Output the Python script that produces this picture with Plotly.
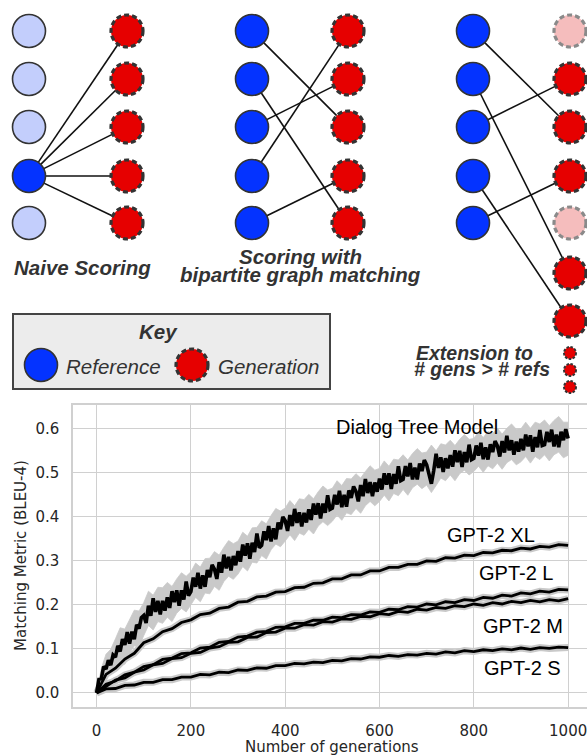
import math
import plotly.graph_objects as go

W, H = 587, 756

# ---------------- chart data ----------------
gens_dialog = list(range(0, 1001, 5))
dialog_tree = [
    0.000, 0.031, 0.032, 0.060, 0.054, 0.074, 0.063, 0.086, 0.081, 0.107,
    0.094, 0.122, 0.109, 0.138, 0.112, 0.139, 0.122, 0.155, 0.146, 0.171,
    0.176, 0.159, 0.198, 0.175, 0.215, 0.184, 0.209, 0.178, 0.209, 0.187,
    0.217, 0.193, 0.231, 0.206, 0.233, 0.198, 0.233, 0.212, 0.253, 0.221,
    0.230, 0.262, 0.241, 0.273, 0.237, 0.267, 0.241, 0.279, 0.263, 0.291,
    0.281, 0.259, 0.297, 0.273, 0.314, 0.283, 0.309, 0.278, 0.311, 0.290,
    0.322, 0.298, 0.337, 0.312, 0.340, 0.305, 0.341, 0.320, 0.362, 0.330,
    0.335, 0.367, 0.347, 0.379, 0.344, 0.374, 0.349, 0.387, 0.372, 0.400,
    0.391, 0.368, 0.404, 0.379, 0.418, 0.386, 0.410, 0.378, 0.409, 0.387,
    0.417, 0.393, 0.430, 0.405, 0.431, 0.396, 0.430, 0.409, 0.449, 0.417,
    0.420, 0.450, 0.428, 0.459, 0.422, 0.450, 0.423, 0.460, 0.443, 0.469,
    0.458, 0.435, 0.472, 0.447, 0.486, 0.454, 0.479, 0.447, 0.478, 0.457,
    0.487, 0.462, 0.499, 0.473, 0.499, 0.463, 0.497, 0.475, 0.515, 0.482,
    0.485, 0.515, 0.492, 0.522, 0.485, 0.512, 0.485, 0.521, 0.504, 0.529,
    0.518, 0.495, 0.475, 0.505, 0.543, 0.511, 0.535, 0.502, 0.533, 0.510,
    0.540, 0.514, 0.551, 0.524, 0.550, 0.513, 0.547, 0.524, 0.564, 0.530,
    0.533, 0.562, 0.539, 0.568, 0.531, 0.558, 0.530, 0.565, 0.547, 0.572,
    0.561, 0.537, 0.572, 0.546, 0.584, 0.551, 0.574, 0.541, 0.571, 0.548,
    0.577, 0.551, 0.587, 0.560, 0.585, 0.548, 0.581, 0.558, 0.597, 0.562,
    0.564, 0.593, 0.570, 0.598, 0.560, 0.587, 0.558, 0.593, 0.574, 0.599,
    0.578]

# grey spread (upper / lower edges) of the dialog curve, every 10 generations
gens_dialog_band = list(range(0, 1001, 10))
dialog_upper = [
    0.000, 0.055, 0.088, 0.099, 0.123, 0.148, 0.145, 0.168, 0.188, 0.186,
    0.205, 0.231, 0.222, 0.240, 0.239, 0.251, 0.242, 0.259, 0.273, 0.265,
    0.275, 0.295, 0.286, 0.305, 0.306, 0.321, 0.313, 0.331, 0.346, 0.339,
    0.345, 0.365, 0.356, 0.375, 0.376, 0.391, 0.384, 0.403, 0.419, 0.413,
    0.420, 0.437, 0.425, 0.441, 0.439, 0.451, 0.441, 0.457, 0.470, 0.461,
    0.465, 0.482, 0.471, 0.487, 0.486, 0.498, 0.488, 0.503, 0.516, 0.506,
    0.510, 0.527, 0.515, 0.531, 0.529, 0.541, 0.529, 0.544, 0.555, 0.545,
    0.547, 0.563, 0.550, 0.566, 0.563, 0.574, 0.562, 0.576, 0.587, 0.576,
    0.578, 0.593, 0.580, 0.594, 0.590, 0.601, 0.588, 0.601, 0.611, 0.599,
    0.600, 0.615, 0.601, 0.615, 0.611, 0.620, 0.607, 0.619, 0.628, 0.615,
    0.615]
dialog_lower = [
    0.000, 0.025, 0.034, 0.057, 0.066, 0.069, 0.065, 0.090, 0.107, 0.105,
    0.130, 0.153, 0.143, 0.162, 0.158, 0.172, 0.162, 0.181, 0.192, 0.184,
    0.200, 0.217, 0.207, 0.227, 0.225, 0.242, 0.233, 0.253, 0.265, 0.258,
    0.270, 0.287, 0.277, 0.297, 0.295, 0.312, 0.304, 0.325, 0.338, 0.332,
    0.345, 0.359, 0.346, 0.363, 0.358, 0.372, 0.361, 0.379, 0.389, 0.380,
    0.390, 0.404, 0.392, 0.409, 0.405, 0.419, 0.408, 0.425, 0.435, 0.425,
    0.435, 0.449, 0.436, 0.453, 0.448, 0.462, 0.449, 0.466, 0.474, 0.464,
    0.472, 0.455, 0.471, 0.488, 0.482, 0.495, 0.482, 0.498, 0.506, 0.495,
    0.503, 0.515, 0.501, 0.516, 0.509, 0.522, 0.508, 0.523, 0.530, 0.518,
    0.525, 0.537, 0.522, 0.537, 0.530, 0.541, 0.527, 0.541, 0.547, 0.534,
    0.540]

gens_gpt = list(range(0, 1001, 20))
gpt2_xl = [0.000, 0.042, 0.056, 0.077, 0.090, 0.114, 0.123, 0.139, 0.146, 0.160,
           0.166, 0.178, 0.181, 0.192, 0.195, 0.206, 0.208, 0.218, 0.220, 0.229,
           0.230, 0.239, 0.240, 0.249, 0.250, 0.259, 0.259, 0.268, 0.268, 0.277,
           0.277, 0.285, 0.285, 0.292, 0.292, 0.300, 0.299, 0.307, 0.306, 0.313,
           0.312, 0.319, 0.318, 0.324, 0.323, 0.329, 0.327, 0.333, 0.331, 0.337,
           0.335]
gpt2_l = [0.000, 0.020, 0.027, 0.041, 0.047, 0.060, 0.064, 0.076, 0.079, 0.089,
          0.091, 0.102, 0.104, 0.115, 0.117, 0.127, 0.129, 0.138, 0.140, 0.149,
          0.150, 0.158, 0.158, 0.165, 0.165, 0.172, 0.171, 0.178, 0.177, 0.184,
          0.183, 0.190, 0.189, 0.196, 0.195, 0.202, 0.200, 0.207, 0.205, 0.212,
          0.210, 0.217, 0.215, 0.222, 0.220, 0.227, 0.225, 0.231, 0.229, 0.235,
          0.234]
gpt2_m = [0.000, 0.014, 0.029, 0.034, 0.047, 0.052, 0.064, 0.067, 0.078, 0.080,
          0.090, 0.092, 0.102, 0.105, 0.115, 0.116, 0.126, 0.127, 0.137, 0.138,
          0.147, 0.147, 0.155, 0.154, 0.162, 0.161, 0.168, 0.167, 0.174, 0.173,
          0.180, 0.178, 0.185, 0.183, 0.190, 0.188, 0.194, 0.192, 0.198, 0.196,
          0.202, 0.199, 0.205, 0.202, 0.208, 0.205, 0.210, 0.207, 0.212, 0.209,
          0.214]
gpt2_s = [0.000, 0.009, 0.010, 0.017, 0.018, 0.024, 0.024, 0.030, 0.030, 0.036,
          0.036, 0.042, 0.041, 0.047, 0.046, 0.052, 0.051, 0.057, 0.056, 0.062,
          0.062, 0.067, 0.066, 0.070, 0.069, 0.074, 0.073, 0.078, 0.077, 0.082,
          0.081, 0.085, 0.083, 0.087, 0.086, 0.090, 0.088, 0.093, 0.091, 0.096,
          0.094, 0.098, 0.096, 0.100, 0.098, 0.102, 0.099, 0.103, 0.101, 0.104,
          0.103]

series_labels = ["Dialog Tree Model", "GPT-2 XL", "GPT-2 L", "GPT-2 M", "GPT-2 S"]
label_x = [679, 836, 889, 904, 904]
label_y = [0.605, 0.359, 0.273, 0.152, 0.057]

x_ticks = [0, 200, 400, 600, 800, 1000]
y_ticks = [0.0, 0.1, 0.2, 0.3, 0.4, 0.5, 0.6]

# ---------------- diagram layout (pixel positions) ----------------
rows5 = [31, 79, 127, 176, 223]
rows7 = [31, 79, 127, 176, 223, 273, 321]
panels = [
    dict(ref_x=29, gen_x=127, gen_rows=rows5, ref_light=[1, 1, 1, 0, 1],
         gen_faded=[0, 0, 0, 0, 0], edges=[(3, 0), (3, 1), (3, 2), (3, 3), (3, 4)]),
    dict(ref_x=252, gen_x=348, gen_rows=rows5, ref_light=[0, 0, 0, 0, 0],
         gen_faded=[0, 0, 0, 0, 0], edges=[(0, 2), (1, 4), (2, 1), (3, 0), (4, 3)]),
    dict(ref_x=473, gen_x=570, gen_rows=rows7, ref_light=[0, 0, 0, 0, 0],
         gen_faded=[1, 0, 0, 0, 1, 0, 0], edges=[(0, 2), (1, 5), (2, 1), (3, 6), (4, 3)]),
]
small_dot_rows = [353, 370, 387]

BLUE = "#0433ff"
LIGHT_BLUE = "#c3cefc"
RED = "#e60000"
PINK = "#f5bdbd"
R_REF = 16.5
R_GEN = 16.0


def px(x):
    return x / W


def py(y):
    return 1 - y / H


shapes = []


def circle(cx, cy, r, fill, lcolor, lw, dash="solid"):
    shapes.append(dict(type="circle", xref="paper", yref="paper",
                       x0=px(cx - r), x1=px(cx + r), y0=py(cy + r), y1=py(cy - r),
                       fillcolor=fill, line=dict(color=lcolor, width=lw, dash=dash),
                       layer="above"))


def gen_circle(cx, cy, r=R_GEN, faded=False):
    circle(cx, cy, r, PINK if faded else RED, "#8a8a8a" if faded else "#333333", 3.2,
           "5px,3px")


# edges first
for p in panels:
    for (i, j) in p["edges"]:
        x1, y1 = p["ref_x"], rows5[i]
        x2, y2 = p["gen_x"], p["gen_rows"][j]
        d = math.hypot(x2 - x1, y2 - y1)
        ux, uy = (x2 - x1) / d, (y2 - y1) / d
        sx, sy = x1 + ux * R_REF, y1 + uy * R_REF
        ex, ey = x2 - ux * R_GEN, y2 - uy * R_GEN
        shapes.append(dict(type="line", xref="paper", yref="paper",
                           x0=px(sx), y0=py(sy), x1=px(ex), y1=py(ey),
                           line=dict(color="#111111", width=1.6), layer="above"))

for p in panels:
    for k, y in enumerate(rows5):
        circle(p["ref_x"], y, R_REF, LIGHT_BLUE if p["ref_light"][k] else BLUE, "#333333", 1.6)
    for k, y in enumerate(p["gen_rows"]):
        gen_circle(p["gen_x"], y, faded=bool(p["gen_faded"][k]))

for y in small_dot_rows:
    circle(570, y, 6, RED, "#333333", 2, "2.5px,1.5px")

# key box
shapes.append(dict(type="rect", xref="paper", yref="paper",
                   x0=px(13), x1=px(330), y0=py(389), y1=py(314),
                   fillcolor="#ececec", line=dict(color="#444444", width=2), layer="below"))
circle(41, 365, R_REF, BLUE, "#333333", 1.6)
gen_circle(192, 365)

annotations = []


def text(x, y, s, size, color="#333333", xanchor="center", font="Liberation Sans"):
    annotations.append(dict(x=px(x), y=py(y), xref="paper", yref="paper", text=s,
                            showarrow=False, xanchor=xanchor, yanchor="middle",
                            font=dict(family=font, size=size, color=color)))


text(82, 267, "<b><i>Naive Scoring</i></b>", 20.5)
text(300, 256, "<b><i>Scoring with</i></b>", 20.5)
text(300, 274, "<b><i>bipartite graph matching</i></b>", 20.5)
text(474, 353, "<b><i>Extension to</i></b>", 19.5)
text(482, 369, "<b><i># gens > # refs</i></b>", 19.5)
text(158, 332, "<b><i>Key</i></b>", 20.5)
text(64, 366, "<i>Reference</i>", 20.5, xanchor="left")
text(216, 366, "<i>Generation</i>", 20.5, xanchor="left")

# axis titles
annotations.append(dict(x=px(21), y=py(556), xref="paper", yref="paper",
                        text="Matching Metric (BLEU-4)", textangle=-90, showarrow=False,
                        xanchor="center", yanchor="middle",
                        font=dict(family="DejaVu Sans", size=15, color="#262626")))
annotations.append(dict(x=px(332), y=py(747), xref="paper", yref="paper",
                        text="Number of generations", showarrow=False,
                        xanchor="center", yanchor="middle",
                        font=dict(family="DejaVu Sans", size=15, color="#262626")))

for s, lx, ly in zip(series_labels, label_x, label_y):
    annotations.append(dict(x=lx, y=ly, xref="x", yref="y", text=s, showarrow=False,
                            xanchor="center", yanchor="middle",
                            font=dict(family="Liberation Sans", size=20, color="#000000")))

# ---------------- traces ----------------
fig = go.Figure()
GREY = "#c9c9c9"

fig.add_trace(go.Scatter(x=gens_dialog_band, y=dialog_upper, mode="lines",
                         line=dict(color=GREY, width=0.8), hoverinfo="skip"))
fig.add_trace(go.Scatter(x=gens_dialog_band, y=dialog_lower, mode="lines", fill="tonexty",
                         fillcolor=GREY, line=dict(color=GREY, width=0.8), hoverinfo="skip"))

for ys in [gpt2_xl, gpt2_l, gpt2_m, gpt2_s]:
    fig.add_trace(go.Scatter(x=gens_gpt, y=ys, mode="lines",
                             line=dict(color=GREY, width=7), hoverinfo="skip"))
for ys in [gpt2_xl, gpt2_l, gpt2_m, gpt2_s]:
    fig.add_trace(go.Scatter(x=gens_gpt, y=ys, mode="lines",
                             line=dict(color="#000000", width=2.8)))
fig.add_trace(go.Scatter(x=gens_dialog, y=dialog_tree, mode="lines",
                         line=dict(color="#000000", width=3.6)))

axis_font = dict(family="DejaVu Sans", size=15, color="#262626")
fig.update_layout(
    width=W, height=H, margin=dict(l=0, r=0, t=0, b=0),
    paper_bgcolor="white", plot_bgcolor="white", showlegend=False,
    shapes=shapes, annotations=annotations,
    xaxis=dict(domain=[73 / W, 1], range=[-50, 1040], tickvals=x_ticks,
               ticktext=[str(v) for v in x_ticks], ticklabeloverflow="allow",
               showgrid=True, gridcolor="#d0d0d0", gridwidth=1.2, zeroline=False,
               showline=True, linecolor="#d0d0d0", linewidth=1.5, mirror=True,
               ticks="outside", ticklen=9, tickcolor="rgba(0,0,0,0)",
               tickfont=axis_font),
    yaxis=dict(domain=[1 - 707 / H, 1 - 405 / H], range=[-0.032, 0.654], tickvals=y_ticks,
               ticktext=[f"{v:.1f}" for v in y_ticks], ticklabeloverflow="allow",
               showgrid=True, gridcolor="#d0d0d0", gridwidth=1.2, zeroline=False,
               showline=True, linecolor="#d0d0d0", linewidth=1.5, mirror=False,
               ticks="outside", ticklen=9, tickcolor="rgba(0,0,0,0)",
               tickfont=axis_font),
)

fig.write_html("out.html", config={"displayModeBar": False},
               post_script="document.body.style.margin='0';document.body.style.overflow='hidden';")
